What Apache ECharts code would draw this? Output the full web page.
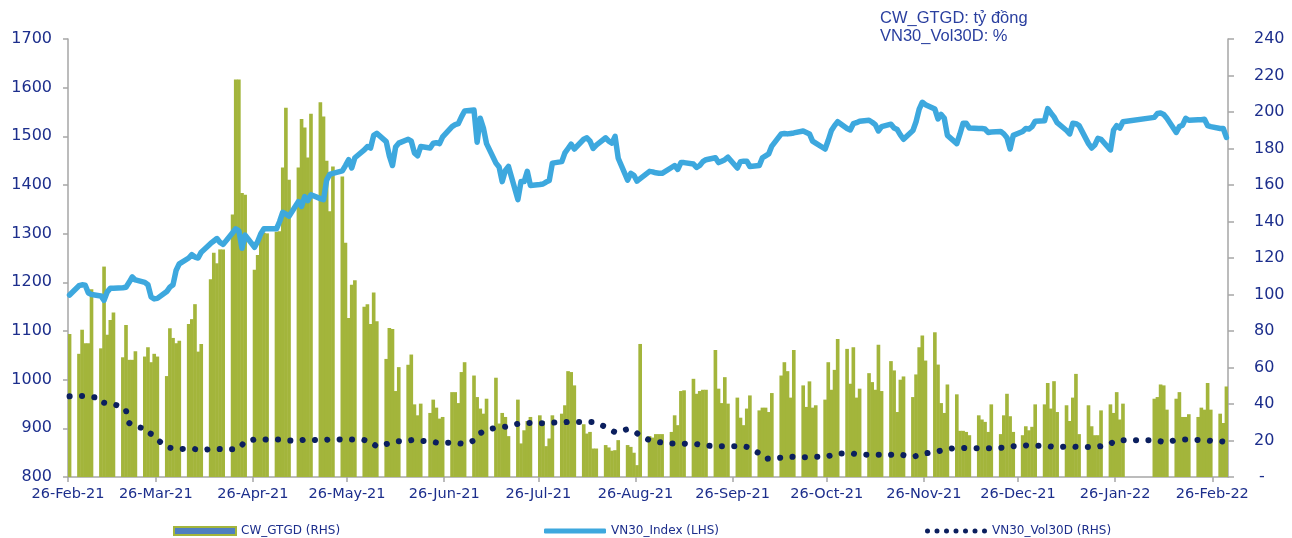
<!DOCTYPE html>
<html lang="vi">
<head>
    <meta charset="UTF-8">
    <title>CW_GTGD - VN30</title>
    <script src="https://cdn.jsdelivr.net/npm/echarts@6/dist/echarts.min.js"></script>
    <style>
        html, body { margin: 0; padding: 0; background: #fff; }
        #chart { width: 1292px; height: 538px; }
    </style>
</head>
<body>
<div id="chart"></div>
<script>
    // ngay giao dich: thu 2 - thu 6, bo nghi Tet 2022
    var firstDay = [2021, 2, 26];
    var lastDay = [2022, 3, 2];
    var holidays = ['2022-01-31', '2022-02-01', '2022-02-02', '2022-02-03', '2022-02-04'];

    // moc truc hoanh: ngay 26 hang thang
    var tickDays = ['2021-02-26', '2021-03-26', '2021-04-26', '2021-05-26', '2021-06-26', '2021-07-26',
        '2021-08-26', '2021-09-26', '2021-10-26', '2021-11-26', '2021-12-26', '2022-01-26', '2022-02-26'];
    var axisEnd = '2022-03-03';

    // CW_GTGD (ty dong, truc phai) - moi dong la 1 tuan
    var cwGtgd = [
        78.4,
        67.5, 80.7, 73.3, 73.3, 102.9,
        70.5, 115.3, 78.0, 86.0, 90.2,
        65.6, 83.3, 64.2, 64.2, 68.9,
        66.0, 71.1, 62.9, 67.5, 66.0,
        55.3, 81.5, 76.2, 73.3, 74.7,
        83.8, 86.5, 94.7, 68.7, 72.9,
        108.4, 122.9, 117.1, 124.7, 124.7,
        143.8, 217.8, 217.8, 155.6, 154.7,
        113.5, 121.6, 131.6, 133.8, 133.5,
        134.4, 134.7, 169.6, 202.3, 162.9,
        169.6, 196.2, 191.5, 175.1, 199.1,
        205.3, 197.5, 173.3, 145.6, 170.2,
        164.7, 128.4, 87.1, 105.3, 107.8,
        93.3, 94.7, 83.8, 101.1, 85.3,
        64.7, 81.6, 81.1, 47.1, 60.2,
        61.5, 67.1, 39.8, 33.8, 40.2,
        35.1, 42.4, 38.0, 32.0, 32.9,
        46.5, 46.5, 40.5, 57.5, 62.9,
        55.6, 43.8, 37.5, 34.7, 42.9,
        54.4, 29.3, 35.1, 32.9, 22.4,
        42.4, 18.4, 25.6, 30.7, 32.9,
        33.8, 30.7, 16.9, 21.1, 33.8,
        34.7, 39.3, 58.0, 57.5, 50.2,
        28.9, 23.8, 24.7, 15.6, 15.6,
        17.5, 16.2, 14.4, 14.7, 20.2,
        17.5, 16.5, 13.3, 6.5, 72.9,
        22.4, 21.6, 23.5, 23.5, 23.5,
        24.7, 33.8, 28.4, 47.1, 47.5,
        53.8, 45.6, 47.1, 47.8, 47.8,
        69.6, 48.4, 40.5, 54.7, 40.2,
        43.5, 32.5, 28.4, 37.5, 44.7,
        36.5, 38.0, 38.0, 35.6, 46.0,
        55.6, 62.9, 58.0, 43.5, 69.6,
        50.2, 38.4, 52.4, 38.0, 39.3,
        42.4, 62.9, 47.8, 58.7, 75.6,
        70.2, 51.1, 71.1, 43.5, 48.4,
        56.9, 52.0, 47.8, 72.4, 47.1,
        63.5, 58.4, 35.6, 53.3, 55.1,
        43.8, 56.2, 71.1, 77.5, 63.8,
        79.3, 61.6, 40.5, 35.1, 50.7,
        45.3, 25.3, 25.3, 24.7, 22.9,
        33.8, 31.5, 30.2, 24.7, 39.8,
        23.5, 33.8, 45.6, 33.3, 24.7,
        22.9, 27.8, 25.6, 27.5, 39.8,
        39.8, 51.5, 37.5, 52.5, 35.6,
        39.3, 30.7, 43.5, 56.5, 23.5,
        39.3, 27.8, 22.9, 22.9, 36.5,
        39.8, 35.1, 46.5, 31.5, 40.2,
        42.9, 43.8, 50.7, 50.2, 36.9,
        42.9, 46.5, 32.9, 32.9, 34.4,
        32.9, 38.0, 36.9, 51.5, 36.9,
        34.7, 29.6, 49.6
    ];

    // VN30_Index (truc trai)
    var vn30Index = [
        1174,
        1193, 1195, 1194, 1178, 1175,
        1172, 1163, 1180, 1188, 1188,
        1189, 1190, 1200, 1211, 1205,
        1200, 1195, 1170, 1166, 1167,
        1181, 1190, 1195, 1225, 1238,
        1250, 1257, 1252, 1250, 1262,
        1280, 1285, 1290, 1282, 1278,
        1302, 1310, 1306, 1270, 1297,
        1272, 1284, 1300, 1310, 1310,
        1310, 1325, 1344, 1340, 1336,
        1366, 1356, 1376, 1368, 1380,
        1372, 1370, 1410, 1422, 1424,
        1429, 1440, 1452, 1435, 1456,
        1472, 1479, 1476, 1502, 1506,
        1489, 1460, 1440, 1478, 1486,
        1494, 1490, 1466, 1460, 1479,
        1476, 1486, 1487, 1485, 1499,
        1520, 1524, 1526, 1540, 1552,
        1554, 1488, 1537, 1517, 1485,
        1445, 1437, 1407, 1430, 1438,
        1370, 1407, 1407, 1428, 1399,
        1401, 1402, 1406, 1409, 1445,
        1448, 1466, 1475, 1484, 1474,
        1494, 1497, 1490, 1475, 1482,
        1497, 1490, 1486, 1500, 1455,
        1410, 1424, 1420, 1408, 1413,
        1428, 1427, 1425, 1424, 1424,
        1436, 1440, 1432, 1446, 1446,
        1443, 1436, 1440, 1448, 1452,
        1456, 1446, 1449, 1452, 1457,
        1435, 1448, 1449, 1449, 1438,
        1440, 1456, 1460, 1464, 1480,
        1505, 1506, 1505, 1506, 1507,
        1511, 1508, 1505, 1490, 1486,
        1474, 1492, 1512, 1522, 1530,
        1516, 1513, 1526, 1528, 1531,
        1533, 1529, 1524, 1511, 1520,
        1525, 1517, 1514, 1503, 1494,
        1512, 1530, 1556, 1570, 1565,
        1556, 1536, 1545, 1537, 1502,
        1485, 1505, 1527, 1527, 1517,
        1516, 1516, 1515, 1508, 1509,
        1510, 1505, 1497, 1474, 1502,
        1510, 1516, 1515, 1520, 1531,
        1532, 1557, 1548, 1540, 1528,
        1512, 1505, 1527, 1526, 1522,
        1485, 1476, 1482, 1496, 1494,
        1472, 1513, 1522, 1517, 1530,
        1539, 1547, 1548, 1545, 1537,
        1508, 1520, 1523, 1537, 1533,
        1534, 1534, 1535, 1522, 1520,
        1516, 1516, 1498
    ];

    // VN30_Vol30D (%, truc phai)
    var vn30Vol30D = [
        44.2,
        44.4, 44.4, 44.2, 44.0, 43.8,
        43.3, 40.7, 40.4, 40.1, 39.8,
        38.5, 36.4, 29.6, 28.5, 27.5,
        26.7, 24.5, 23.6, 22.5, 20.5,
        16.3, 16.0, 15.8, 15.5, 15.3,
        15.5, 15.4, 15.3, 15.0, 14.7,
        15.3, 15.5, 15.4, 15.3, 15.1,
        15.2, 15.4, 15.5, 17.5, 19.6,
        20.5, 20.7, 20.7, 20.6, 20.5,
        20.5, 20.5, 20.5, 20.3, 20.0,
        19.8, 20.2, 20.5, 20.7, 20.5,
        20.0, 20.2, 20.4, 20.6, 20.7,
        20.5, 20.4, 20.4, 20.5, 20.5,
        20.2, 19.8, 19.6, 18.0, 16.7,
        18.0, 18.5, 18.6, 19.0, 19.6,
        20.0, 20.2, 20.4, 20.2, 19.9,
        19.4, 19.2, 18.9, 18.7, 18.7,
        18.9, 18.7, 18.5, 18.3, 18.2,
        20.0, 22.0, 24.0, 25.0, 25.8,
        27.0, 27.2, 27.3, 27.5, 28.0,
        29.1, 29.3, 29.5, 29.6, 29.6,
        29.5, 29.5, 29.6, 29.7, 29.8,
        29.9, 30.0, 30.2, 30.2, 30.2,
        30.2, 30.2, 30.2, 30.2, 29.5,
        27.5, 26.5, 25.5, 24.5, 25.0,
        26.2, 25.5, 24.8, 24.0, 22.5,
        20.2, 19.8, 19.4, 19.1, 18.9,
        18.4, 18.4, 18.4, 18.4, 18.3,
        18.0, 18.0, 17.8, 17.5, 17.1,
        17.0, 16.9, 16.9, 16.9, 16.9,
        16.9, 16.9, 16.9, 16.5, 15.5,
        13.0, 11.5, 10.0, 10.1, 10.3,
        10.6, 10.8, 11.0, 11.1, 11.0,
        10.8, 10.8, 10.9, 11.1, 11.1,
        11.1, 11.4, 12.0, 12.5, 12.9,
        12.9, 12.9, 12.8, 12.5, 12.3,
        12.2, 12.2, 12.2, 12.2, 12.2,
        12.2, 12.3, 12.4, 12.5, 12.0,
        11.2, 11.5, 12.0, 12.8, 13.0,
        13.6, 14.0, 14.5, 15.0, 15.3,
        16.0, 16.0, 15.9, 15.8, 15.8,
        15.8, 15.8, 15.8, 15.8, 15.8,
        16.0, 16.1, 16.2, 16.5, 16.9,
        17.2, 17.3, 17.2, 17.1, 17.1,
        17.1, 16.9, 16.7, 16.5, 16.4,
        16.7, 16.9, 16.7, 16.5, 16.4,
        16.4, 16.4, 16.5, 16.7, 16.9,
        18.0, 19.5, 20.0, 20.2, 20.2,
        20.2, 20.0, 19.5, 19.0, 19.3,
        20.2, 20.4, 20.5, 20.5, 20.5,
        20.3, 20.2, 20.1, 20.0, 19.8,
        19.6, 19.4, 19.3
    ];

    var monthNames = ['Jan', 'Feb', 'Mar', 'Apr', 'May', 'Jun', 'Jul', 'Aug', 'Sep', 'Oct', 'Nov', 'Dec'];
    var ONE_DAY = 86400000;

    function parseDay(s) {
        var p = s.split('-');
        return new Date(+p[0], +p[1] - 1, +p[2]).getTime();
    }

    function dayKey(d) {
        var m = d.getMonth() + 1, dd = d.getDate();
        return d.getFullYear() + '-' + (m < 10 ? '0' + m : m) + '-' + (dd < 10 ? '0' + dd : dd);
    }

    // danh sach ngay giao dich (dat giua ngay de cot nam giua o ngay)
    var tradingDays = [];
    var cur = new Date(firstDay[0], firstDay[1] - 1, firstDay[2]);
    var stop = new Date(lastDay[0], lastDay[1] - 1, lastDay[2]);
    while (cur <= stop) {
        var wd = cur.getDay();
        if (wd !== 0 && wd !== 6 && holidays.indexOf(dayKey(cur)) < 0) {
            tradingDays.push(new Date(cur.getFullYear(), cur.getMonth(), cur.getDate(), 12).getTime());
        }
        cur.setDate(cur.getDate() + 1);
    }
    if (tradingDays.length !== cwGtgd.length) {
        console.log('so ngay', tradingDays.length, cwGtgd.length, vn30Index.length, vn30Vol30D.length);
    }

    function pairs(values) {
        var out = [];
        for (var i = 0; i < values.length; i++) {
            out.push([tradingDays[i], values[i]]);
        }
        return out;
    }

    var tickValues = tickDays.map(parseDay);
    var labelColor = '#1c2e8c';
    var axisGrey = '#a6a6a6';
    var barGreen = '#a3b53b';
    var indexBlue = '#3da8de';
    var volNavy = '#0b1f5e';

    // icon chu giai: 7 cham tron
    var dotsIcon = 'path://M0,2.5a2.5,2.5 0 1,0 5,0a2.5,2.5 0 1,0 -5,0'
        + 'M9.5,2.5a2.5,2.5 0 1,0 5,0a2.5,2.5 0 1,0 -5,0'
        + 'M19,2.5a2.5,2.5 0 1,0 5,0a2.5,2.5 0 1,0 -5,0'
        + 'M28.5,2.5a2.5,2.5 0 1,0 5,0a2.5,2.5 0 1,0 -5,0'
        + 'M38,2.5a2.5,2.5 0 1,0 5,0a2.5,2.5 0 1,0 -5,0'
        + 'M47.5,2.5a2.5,2.5 0 1,0 5,0a2.5,2.5 0 1,0 -5,0'
        + 'M57,2.5a2.5,2.5 0 1,0 5,0a2.5,2.5 0 1,0 -5,0';

    var legendText = { color: labelColor, fontSize: 12, fontFamily: 'DejaVu Sans' };

    // cot GTGD: rong 1 ngay + chut chong lan de cac cot trong tuan lien khoi
    function renderDayBar(params, api) {
        var top = api.coord([api.value(0), api.value(1)]);
        var base = api.coord([api.value(0), 0]);
        var w = api.size([ONE_DAY, 0])[0] + 0.5;
        return {
            type: 'rect',
            shape: { x: top[0] - w / 2, y: top[1], width: w, height: base[1] - top[1] },
            style: { fill: barGreen }
        };
    }

    var chart = echarts.init(document.getElementById('chart'));

    var option = {
        animation: false,
        backgroundColor: '#fff',
        grid: {
            left: 68,
            right: 64,
            top: 39,
            bottom: 61
        },
        graphic: [{
            type: 'text',
            left: 880,
            top: 9,
            style: {
                text: 'CW_GTGD: tỷ đồng\nVN30_Vol30D: %',
                font: '16.5px "Liberation Sans", Arial, sans-serif',
                lineHeight: 18,
                fill: '#2a3f9f'
            }
        }],
        legend: [{
            left: 168,
            top: 520,
            itemWidth: 62,
            itemHeight: 8,
            textStyle: legendText,
            data: [{
                name: 'CW_GTGD (RHS)',
                icon: 'rect',
                itemStyle: { color: '#4f7fc0', borderColor: barGreen, borderWidth: 2 }
            }]
        }, {
            left: 539,
            top: 520,
            itemWidth: 62,
            itemHeight: 5,
            textStyle: legendText,
            data: [{ name: 'VN30_Index (LHS)', icon: 'roundRect', itemStyle: { color: indexBlue } }]
        }, {
            left: 920,
            top: 520,
            itemWidth: 62,
            itemHeight: 5,
            textStyle: legendText,
            data: [{ name: 'VN30_Vol30D (RHS)', icon: dotsIcon, itemStyle: { color: volNavy } }]
        }],
        xAxis: {
            // truc so theo moc thoi gian (ms)
            type: 'value',
            min: parseDay(tickDays[0]),
            max: parseDay(axisEnd),
            axisLine: { lineStyle: { color: axisGrey, width: 1.5 } },
            axisTick: {
                customValues: tickValues,
                length: 5,
                lineStyle: { color: axisGrey, width: 1.5 }
            },
            axisLabel: {
                customValues: tickValues,
                margin: 10,
                color: labelColor,
                fontSize: 14.5,
                fontFamily: 'DejaVu Sans',
                formatter: function (value) {
                    var d = new Date(value);
                    return d.getDate() + '-' + monthNames[d.getMonth()] + '-' + String(d.getFullYear()).slice(2);
                }
            },
            splitLine: { show: false }
        },
        yAxis: [{
            type: 'value',
            min: 800,
            max: 1700,
            interval: 100,
            axisLine: { show: true, lineStyle: { color: axisGrey, width: 1.5 } },
            axisTick: { show: true, length: 5, lineStyle: { color: axisGrey, width: 1.5 } },
            axisLabel: {
                margin: 16,
                color: labelColor,
                fontSize: 16,
                fontFamily: 'DejaVu Sans',
                formatter: function (v) { return String(v); }
            },
            splitLine: { show: false }
        }, {
            type: 'value',
            min: 0,
            max: 240,
            interval: 20,
            position: 'right',
            axisLine: { show: true, lineStyle: { color: axisGrey, width: 1.5 } },
            axisTick: { show: true, length: 6, lineStyle: { color: axisGrey, width: 1.5 } },
            axisLabel: {
                margin: 8,
                padding: [0, 0, 0, 18],
                align: 'left',
                color: labelColor,
                fontSize: 16,
                fontFamily: 'DejaVu Sans',
                formatter: function (v) { return v === 0 ? ' -' : String(v); }
            },
            splitLine: { show: false }
        }],
        series: [{
            name: 'CW_GTGD (RHS)',
            type: 'custom',
            yAxisIndex: 1,
            renderItem: renderDayBar,
            encode: { x: 0, y: 1 },
            clip: true,
            itemStyle: { color: barGreen },
            data: pairs(cwGtgd),
            z: 1
        }, {
            name: 'VN30_Index (LHS)',
            type: 'line',
            yAxisIndex: 0,
            symbol: 'none',
            lineStyle: { color: indexBlue, width: 5.5, join: 'round', cap: 'round' },
            itemStyle: { color: indexBlue },
            data: pairs(vn30Index),
            z: 3
        }, {
            name: 'VN30_Vol30D (RHS)',
            type: 'line',
            yAxisIndex: 1,
            symbol: 'none',
            lineStyle: { color: volNavy, width: 6, type: [0.1, 12.3], cap: 'round', join: 'round' },
            itemStyle: { color: volNavy },
            data: pairs(vn30Vol30D),
            z: 4
        }]
    };

    chart.setOption(option);
</script>
</body>
</html>
